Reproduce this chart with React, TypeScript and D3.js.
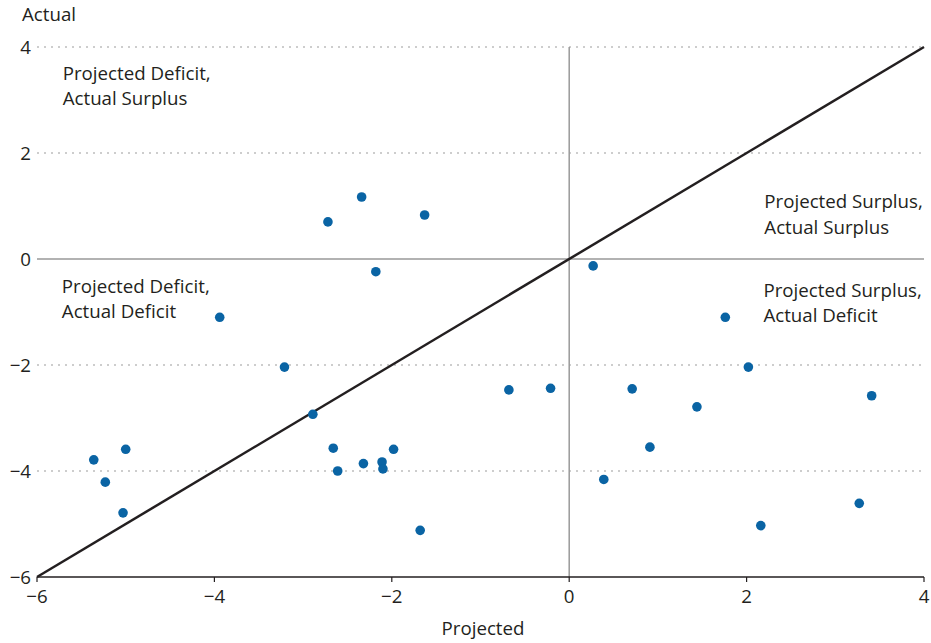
import React from "react";
import * as d3 from "d3";

const projected = [
  -2.34, -2.72, -1.63, -2.18, -3.94, -3.21, -2.89, -2.66, -2.61, -2.32,
  -2.11, -2.10, -1.98, -1.68, -5.36, -5.23, -5.0, -5.03, -0.68, -0.21,
  0.27, 1.76, 0.71, 1.44, 2.02, 0.91, 0.39, 2.16, 3.27, 3.41,
];
const actual = [
  1.17, 0.7, 0.83, -0.24, -1.1, -2.04, -2.93, -3.57, -4.0, -3.86,
  -3.83, -3.96, -3.59, -5.12, -3.79, -4.21, -3.59, -4.79, -2.47, -2.44,
  -0.13, -1.1, -2.45, -2.79, -2.04, -3.55, -4.16, -5.03, -4.61, -2.58,
];
const xTicks = [-6, -4, -2, 0, 2, 4];
const yTicks = [-6, -4, -2, 0, 2, 4];
const gridValues = [-4, -2, 2, 4];
const diagonal = [-6, 4];
const quadrantLabels = [
  { lines: ["Projected Deficit,", "Actual Surplus"], x: -5.71, y: 3.38 },
  { lines: ["Projected Deficit,", "Actual Deficit"], x: -5.72, y: -0.64 },
  { lines: ["Projected Surplus,", "Actual Surplus"], x: 2.2, y: 0.96 },
  { lines: ["Projected Surplus,", "Actual Deficit"], x: 2.19, y: -0.71 },
];

const W = 931;
const H = 643;
const FONT = "'Open Sans', sans-serif";
const FS = 18.7;
const TEXT = "#231f20";
const DOT = "#0a64a4";

export default function App() {
  const x = d3.scaleLinear().domain([-6, 4]).range([37, 924]);
  const y = d3.scaleLinear().domain([-6, 4]).range([577, 47]);
  const line = d3
    .line<number>()
    .x((d) => x(d))
    .y((d) => y(d));
  const fmt = (v: number) => (v < 0 ? "\u2212" + Math.abs(v) : String(v));

  return (
    <svg
      width={W}
      height={H}
      style={{ position: "absolute", left: 0, top: 0, background: "#fff" }}
      fontFamily={FONT}
    >
      <rect width={W} height={H} fill="#fff" />
      {gridValues.map((v) => (
        <line
          key={"g" + v}
          x1={x(-6)}
          x2={x(4)}
          y1={y(v)}
          y2={y(v)}
          stroke="#bdbdbd"
          strokeWidth={1.5}
          strokeDasharray="2,5"
        />
      ))}
      <line x1={x(-6)} x2={x(4)} y1={y(0)} y2={y(0)} stroke="#999" strokeWidth={1.5} />
      <line x1={x(0)} x2={x(0)} y1={y(4)} y2={y(-6)} stroke="#999" strokeWidth={1.5} />
      <line x1={x(-6)} x2={x(4)} y1={y(-6)} y2={y(-6)} stroke={TEXT} strokeWidth={1.6} />
      {xTicks.map((v) => (
        <g key={"xt" + v}>
          <line x1={x(v)} x2={x(v)} y1={y(-6)} y2={y(-6) + 5} stroke={TEXT} strokeWidth={1.2} />
          <text x={x(v)} y={603} textAnchor="middle" fontSize={FS} fill={TEXT}>
            {fmt(v)}
          </text>
        </g>
      ))}
      {yTicks.map((v) => (
        <text key={"yt" + v} x={31} y={y(v)} dy="0.36em" textAnchor="end" fontSize={FS} fill={TEXT}>
          {fmt(v)}
        </text>
      ))}
      <path d={line(diagonal) || ""} stroke={TEXT} strokeWidth={2.5} fill="none" />
      {projected.map((p, i) => (
        <circle key={"p" + i} cx={x(p)} cy={y(actual[i])} r={4.8} fill={DOT} />
      ))}
      {quadrantLabels.map((q, i) => (
        <text key={"q" + i} x={x(q.x)} y={y(q.y)} fontSize={FS} fill={TEXT}>
          {q.lines.map((l, j) => (
            <tspan key={j} x={x(q.x)} dy={j === 0 ? 0 : 25.5}>
              {l}
            </tspan>
          ))}
        </text>
      ))}
      <text x={22} y={21} fontSize={FS} fill={TEXT}>
        Actual
      </text>
      <text x={483} y={635} textAnchor="middle" fontSize={FS} fill={TEXT}>
        Projected
      </text>
    </svg>
  );
}
